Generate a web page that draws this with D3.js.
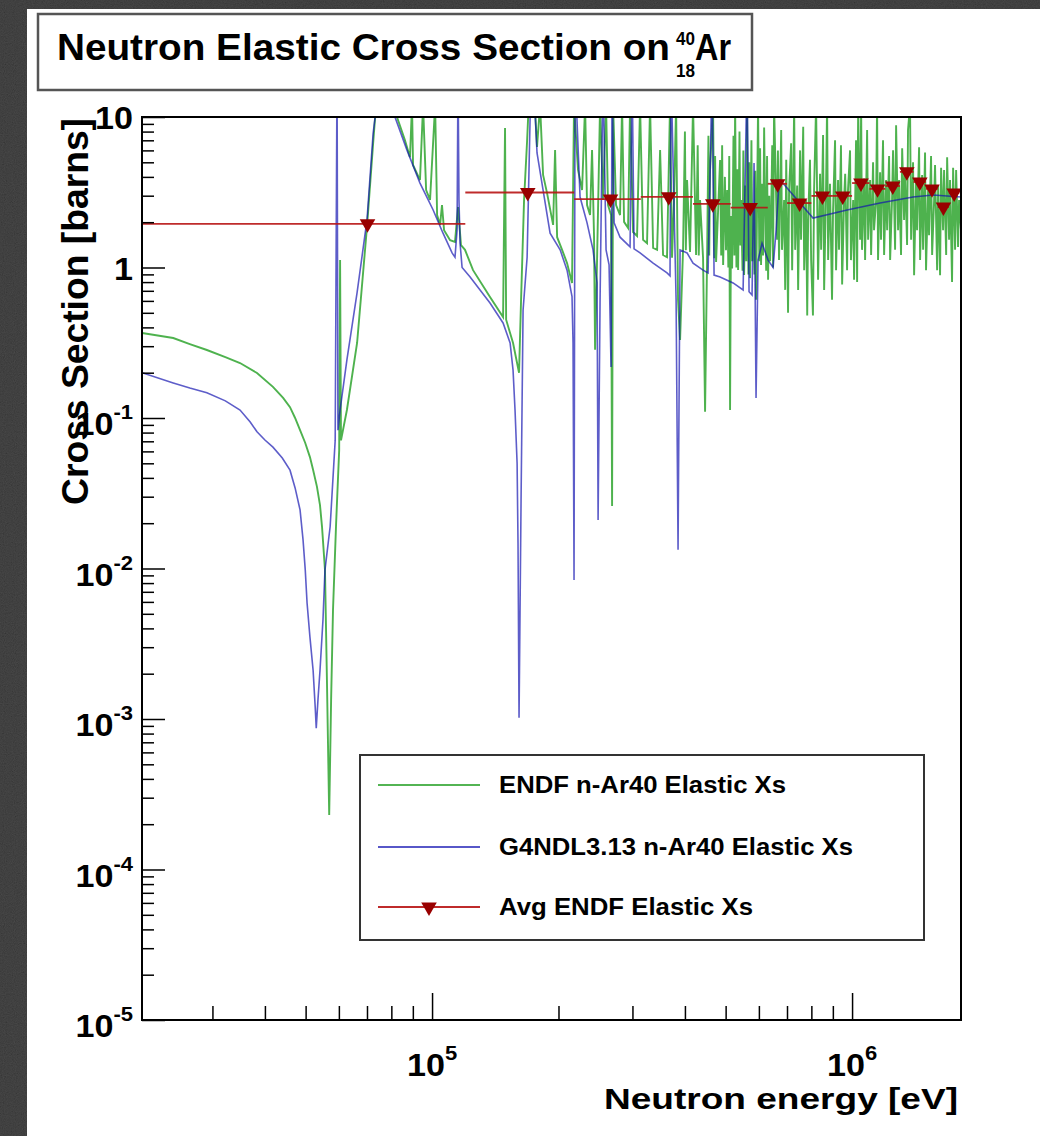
<!DOCTYPE html>
<html>
<head>
<meta charset="utf-8">
<script src="https://cdn.jsdelivr.net/npm/d3@7"></script>
<style>
html, body { margin: 0; padding: 0; background: #fff; }
text { font-family: "Liberation Sans", Arial, Helvetica, sans-serif; font-weight: bold; fill: #000; }
</style>
</head>
<body>
<div id="chart"></div>
<script>
// ENDF n-Ar40 elastic cross section, [energy keV, sigma barns]
const endfPoints = [
    [20.4,0.367],[24.2,0.340],[26.5,0.310],[29.1,0.283],[32.2,0.254],[34.9,0.232],[38.3,0.199],
    [41.8,0.161],[44.2,0.136],[45.9,0.118],[47.2,0.100],[48.5,0.083],[49.9,0.0682],[51.2,0.055],
    [52.1,0.0451],[53.2,0.035],[54.1,0.0264],[54.7,0.019],[55.6,0.0098],[56.2,0.0018],[56.9,0.00023],
    [57.5,0.00134],[58.1,0.0053],[59.1,0.020],[60.1,0.061],[60.4,1.12],[60.7,0.071],[62.7,0.113],
    [66.3,0.315],[70.0,1.86],[72.4,6.7],[73.2,10],[77.7,20],[82.5,10],[86.2,7.0],[88.6,5.4],
    [89.6,12],[90.1,4.8],[93.6,3.81],[95.2,12],[96.8,3.27],[98.9,2.81],[101.7,12],[102.8,2.23],
    [104.5,1.92],[105.6,2.60],[106.8,1.77],[110.4,1.52],[113.4,1.48],[115.3,2.52],[117.2,1.41],
    [119.8,1.31],[125.2,0.96],[137.4,0.637],[147.6,0.469],[149.2,8.45],[150.1,0.45],[155.9,0.315],
    [161.1,0.20],[162.9,0.61],[165.6,2.81],[168.4,7.0],[171.2,20],[174.0,20],[177.8,6.32],
    [180.8,12],[183.8,4.12],[187.8,3.13],[194.2,1.92],[196.3,6.03],[198.5,1.59],[204.0,1.31],
    [209.6,1.07],[215.4,0.79],[217.8,12],[222.6,4.45],[227.6,3.27],[231.4,12],[233.9,2.60],
    [237.8,2.23],[240.4,6.03],[243.0,1.64],[244.4,0.284],[247.1,1.12],[251.2,12],[255.3,2.81],
    [259.6,12],[262.4,2.60],[266.8,2.23],[268.3,0.026],[269.8,12],[274.2,2.60],[280.3,2.23],
    [283.4,12],[286.5,2.01],[292.9,1.83],[296.1,12],[301.0,1.72],[307.7,1.62],[312.8,12],
    [318.0,1.53],[325.0,1.45],[330.4,12],[336.0,1.35],[343.4,1.31],[349.1,6.03],[354.8,1.21],
    [362.6,1.17],[368.6,12],[372.7,1.16],[376.9,2.81],[381.1,12],[385.2,0.61],[389.5,0.33],
    [395.9,1.31],[400.0,8.0],[402.0,1.3],[404.7,3.81],[411.4,1.27],[418.2,12],[425.2,1.21],
    [429.0,6.5],[431.5,1.2],[434.6,2.81],[441.8,1.16],[446.7,0.110],[451.6,1.12],[455.0,7.5],
    [457.0,1.2],[459.1,4.45],[466.7,12],[470.0,1.15],[472.0,5.5],[474.5,1.09],
    [485.0,5.17],[488.0,1.2],[490.5,6.5],[493.2,1.04],[498.0,4.0],[501.0,1.3],[504.1,3.27],
    [507.5,1.0],[510.0,5.5],[512.3,0.113],[515.0,2.2],[518.1,0.985],[522.0,7.5],[524.5,1.2],
    [526.7,12],[530.5,1.0],[533.0,4.5],[535.4,0.962],[539.5,8.0],[542.0,1.4],[544.2,2.81],
    [548.5,0.95],[551.0,6.0],[553.3,0.892],[557.5,3.5],[560.0,1.1],[562.3,12],[566.5,0.9],
    [569.0,5.0],[571.6,0.85],[576.0,7.0],[578.5,1.1],[581.1,2.41],[585.5,0.9],[588.0,4.4],
    [590.7,0.61],[594.0,2.5],[597.3,12],[601.5,1.1],[604.0,6.2],[607.2,1.04],[611.0,3.6],
    [614.0,1.2],[617.5,8.5],[620.7,2.81],[624.5,0.95],[627.5,5.5],[631.0,0.83],[635.0,3.0],
    [638.0,1.1],[641.4,2.07],[645.5,6.5],[648.5,1.0],[652.1,12],
    [663,1.53],[666,6.0],[670,1.12],[678,8.2],[681,1.31],[689,2.81],[693,0.71],[697,5.2],
    [704,0.50],[708,3.27],[716,6.7],[720,0.96],[728,12],[732,1.31],[740,3.5],[744,0.71],
    [752,6.0],[756,1.53],[765,8.6],[769,0.96],[777,2.81],[782,0.48],[786,2.07],[794,5.2],
    [799,1.12],[807,0.48],[812,3.27],[821,12],[830,0.83],[839,4.2],[844,1.31],[853,7.6],
    [858,0.71],[867,3.27],[872,12],[877,1.12],[886,3.6],[896,0.61],[901,2.41],[911,7.0],
    [916,0.96],[926,3.81],[931,1.31],[941,6.5],[947,0.77],[957,2.81],[963,4.2],[973,0.96],
    [978,3.27],[989,6.0],[994,1.12],[1006,2.81],[1011,0.83],[1022,7.0],[1028,0.80],[1034,12],
    [1045,1.53],[1051,12],[1056,1.31],[1068,3.9],[1074,1.12],[1086,8.2],[1092,1.53],[1104,3.81],
    [1110,1.21],[1122,5.0],[1128,1.77],[1141,2.81],[1147,12],[1153,1.12],[1166,4.3],[1172,1.53],
    [1185,7.0],[1192,1.21],[1205,3.81],[1212,1.77],[1225,5.5],[1232,1.12],[1245,2.81],[1252,6.0],
    [1266,1.31],[1273,8.8],[1287,1.77],[1294,3.81],[1308,1.21],[1316,6.2],[1330,2.07],[1337,4.45],
    [1352,1.41],[1359,8.2],[1374,12],[1382,1.53],[1397,5.0],[1405,0.89],[1420,3.81],[1428,1.77],
    [1444,6.3],[1452,1.12],[1468,4.12],[1476,1.31],[1492,5.8],[1500,0.96],[1517,3.27],[1525,1.64],
    [1542,5.5],[1551,1.21],[1568,2.81],[1576,4.8],[1594,0.96],[1603,3.53],[1620,0.89],[1629,4.6],
    [1647,1.77],[1656,4.45],[1675,1.21],[1684,5.4],[1702,1.53],[1711,3.81],[1730,0.80],[1740,4.6],
    [1759,1.31],[1769,4.45],[1788,1.37],[1798,2.81],[1817,1.77]
];

// G4NDL3.13 n-Ar40 elastic cross section, [energy keV, sigma barns]
const g4ndlPoints = [
    [20.4,0.20],[24.2,0.171],[26.5,0.158],[29.1,0.147],[32.2,0.130],[34.9,0.113],[36.9,0.094],
    [38.3,0.081],[40.0,0.0714],[41.8,0.064],[44.0,0.0542],[45.9,0.045],[47.2,0.0343],[48.5,0.0245],
    [49.3,0.0155],[49.9,0.0098],[50.4,0.0059],[51.2,0.0035],[52.1,0.0021],[52.7,0.0012],
    [53.0,0.00087],[53.5,0.00134],[54.1,0.0021],[55.0,0.0046],[55.6,0.0098],[57.2,0.019],
    [58.8,0.071],[59.4,20],[59.7,0.083],[60.4,0.113],[62.7,0.243],[66.3,0.68],[70.0,2.07],
    [72.4,7.8],[73.2,10],[77.7,20],[81.6,10],[87.2,6.0],[93.6,3.64],[100.6,2.41],[106.2,1.69],
    [111.6,1.25],[113.4,1.17],[114.7,1.77],[115.3,20],[115.9,2.81],[116.6,1.45],[117.9,1.0],
    [123.2,0.865],[130.1,0.708],[137.4,0.581],[147.6,0.428],[153.4,0.315],[155.9,0.208],
    [157.6,0.113],[159.4,0.050],[160.2,0.0148],[161.1,0.00102],[162.9,0.0285],[164.7,0.52],
    [168.4,1.17],[171.2,10],[174.0,20],[177.8,5.77],[183.8,3.27],[191.0,1.69],[201.8,1.31],
    [209.6,0.96],[215.4,0.64],[216.6,0.315],[217.8,0.0084],[219.0,20],[225.1,2.94],[233.9,1.98],
    [241.7,1.31],[247.1,0.79],[248.5,0.021],[251.2,0.61],[255.3,20],[259.6,1.31],[263.9,1.04],
    [266.8,0.218],[268.3,20],[271.3,1.98],[280.3,1.59],[296.1,1.37],[299.4,20],[302.7,1.33],
    [312.8,1.25],[336.0,1.07],[362.6,0.92],[368.6,0.88],[370.7,20],[381.1,0.61],[385.2,0.0133],
    [389.5,1.31],[404.7,1.25],[418.2,1.07],[441.8,0.96],[454.1,0.92],[464.2,20],[469.3,0.89],
    [485.0,0.865],[520.9,0.79],[550.3,0.71],[562.3,20],[568.5,0.69],[577.9,0.656],[584.3,4.95],
    [590.7,0.136],[597.3,1.12],[610.5,1.45],[631.0,1.12],[648.6,1.0],[659.4,1.77],[670.4,3.81],
    [674.1,3.81],[807.4,2.13],[973,2.41],[1166,2.68],[1397,2.94],[1559,3.03],[1817,2.94]
];

// averaged ENDF elastic cross section per energy bin (keV edges, barns)
const avgBinLow  = [20.4, 120, 218, 314, 418, 514, 630, 700, 800, 900, 1000, 1100, 1200, 1300, 1400, 1500, 1600, 1700];
const avgBinHigh = [120, 218, 314, 418, 514, 630, 700, 800, 900, 1000, 1100, 1200, 1300, 1400, 1500, 1600, 1700, 1800];
const avgXs      = [1.95, 3.15, 2.85, 2.95, 2.65, 2.5, 3.6, 2.68, 2.99, 2.99, 3.64, 3.33, 3.48, 4.32, 3.70, 3.33, 2.52, 3.13];

const yExponents = [-5, -4, -3, -2, -1, 0, 1];
const xExponents = [5, 6];
const legendLabels = ["ENDF n-Ar40 Elastic Xs", "G4NDL3.13 n-Ar40 Elastic Xs", "Avg ENDF Elastic Xs"];

const W = 1040, H = 1136;
const frame = { left: 142, right: 961, top: 117, bottom: 1020 };
const green = "#0a940a", blue = "#1010b0", red = "#b81414", darkRed = "#990000";

const svg = d3.select("#chart").append("svg")
    .attr("width", W)
    .attr("height", H);

const defs = svg.append("defs");

// grainy dark border of the screenshot
const grain = defs.append("filter").attr("id", "grain")
    .attr("x", 0).attr("y", 0).attr("width", "100%").attr("height", "100%");
grain.append("feTurbulence").attr("type", "fractalNoise")
    .attr("baseFrequency", 0.9).attr("numOctaves", 2).attr("seed", 7);
grain.append("feColorMatrix").attr("type", "matrix")
    .attr("values", "0.33 0.33 0.33 0 0 0.33 0.33 0.33 0 0 0.33 0.33 0.33 0 0 0 0 0 0 1");

svg.append("rect").attr("width", W).attr("height", H).attr("fill", "#1e1e1e");
svg.append("rect").attr("width", W).attr("height", H).attr("filter", "url(#grain)").attr("opacity", 0.22);
svg.append("rect").attr("x", 27).attr("y", 9).attr("width", W - 27).attr("height", H - 9).attr("fill", "#fff");

defs.append("clipPath").attr("id", "plotClip")
    .append("rect")
    .attr("x", frame.left).attr("y", frame.top)
    .attr("width", frame.right - frame.left)
    .attr("height", frame.bottom - frame.top);

const x = d3.scaleLog().domain([2.039e4, 1.817e6]).range([frame.left, frame.right]);
const y = d3.scaleLog().domain([1e-5, 10]).range([frame.bottom, frame.top]);

const line = d3.line()
    .x(d => x(d[0] * 1e3))
    .y(d => y(d[1]));

const plot = svg.append("g").attr("clip-path", "url(#plotClip)");

const avgBins = avgXs.map((v, i) => ({ lo: avgBinLow[i], hi: avgBinHigh[i], v: v }));

plot.append("path")
    .attr("d", line(endfPoints))
    .attr("fill", "none")
    .attr("stroke", green)
    .attr("stroke-width", 1.9)
    .attr("stroke-opacity", 0.72);

plot.append("path")
    .attr("d", line(g4ndlPoints))
    .attr("fill", "none")
    .attr("stroke", blue)
    .attr("stroke-width", 1.6)
    .attr("stroke-opacity", 0.68);

plot.selectAll(".avg-bar")
    .data(avgBins)
    .enter()
    .append("line")
    .attr("class", "avg-bar")
    .attr("x1", d => x(d.lo * 1e3))
    .attr("x2", d => x(d.hi * 1e3))
    .attr("y1", d => y(d.v))
    .attr("y2", d => y(d.v))
    .attr("stroke", red)
    .attr("stroke-width", 1.8)
    .attr("stroke-opacity", 0.9);

const downTriangle = d3.symbol().type(d3.symbolTriangle).size(105);

plot.selectAll(".avg-mark")
    .data(avgBins)
    .enter()
    .append("path")
    .attr("class", "avg-mark")
    .attr("d", downTriangle)
    .attr("transform", d => "translate(" + x((d.lo + d.hi) / 2 * 1e3) + "," + y(d.v) + ") rotate(180)")
    .attr("fill", darkRed);

// frame
svg.append("rect")
    .attr("x", frame.left).attr("y", frame.top)
    .attr("width", frame.right - frame.left)
    .attr("height", frame.bottom - frame.top)
    .attr("fill", "none")
    .attr("stroke", "#000")
    .attr("stroke-width", 2);

// y axis ticks (inside the frame)
const yMajor = yExponents.map(e => Math.pow(10, e));
const yMinor = [];
yExponents.slice(0, -1).forEach(e => {
    for (let m = 2; m <= 9; m++) yMinor.push(m * Math.pow(10, e));
});

function styleAxis(g) {
    g.select(".domain").remove();
    g.selectAll(".tick line").attr("stroke", "#000").attr("stroke-width", 1.5);
    g.selectAll(".tick text").remove();
}

svg.append("g")
    .attr("transform", "translate(" + frame.left + ",0)")
    .call(d3.axisLeft(y).tickValues(yMajor).tickSize(-23).tickFormat(""))
    .call(styleAxis);

svg.append("g")
    .attr("transform", "translate(" + frame.left + ",0)")
    .call(d3.axisLeft(y).tickValues(yMinor).tickSize(-12).tickFormat(""))
    .call(styleAxis);

// x axis ticks
const xMajor = xExponents.map(e => Math.pow(10, e));
const xMinor = [];
[4, 5].forEach(e => {
    for (let m = 2; m <= 9; m++) {
        const v = m * Math.pow(10, e);
        if (v > x.domain()[0] && v < x.domain()[1]) xMinor.push(v);
    }
});

svg.append("g")
    .attr("transform", "translate(0," + frame.bottom + ")")
    .call(d3.axisBottom(x).tickValues(xMajor).tickSize(-27).tickFormat(""))
    .call(styleAxis);

svg.append("g")
    .attr("transform", "translate(0," + frame.bottom + ")")
    .call(d3.axisBottom(x).tickValues(xMinor).tickSize(-14).tickFormat(""))
    .call(styleAxis);

// power-of-ten labels
function powLabel(g, e, anchor) {
    const t = g.append("text")
        .attr("text-anchor", anchor)
        .style("font-size", "31px");
    if (e === 0) { t.text("1"); return t; }
    t.append("tspan").text("10");
    if (e !== 1) {
        t.append("tspan").attr("dy", -16).style("font-size", "20px").text(e);
    }
    return t;
}

yExponents.forEach(e => {
    const g = svg.append("g")
        .attr("transform", "translate(133," + (y(Math.pow(10, e)) + (e >= 0 ? 12 : 17)) + ") scale(1.1,1)");
    powLabel(g, e, "end");
});

xExponents.forEach(e => {
    const g = svg.append("g")
        .attr("transform", "translate(" + x(Math.pow(10, e)) + ",1076) scale(1.1,1)");
    powLabel(g, e, "middle");
});

// axis titles
svg.append("text")
    .attr("transform", "translate(88,118) rotate(-90)")
    .attr("text-anchor", "end")
    .attr("textLength", 387)
    .attr("lengthAdjust", "spacingAndGlyphs")
    .style("font-size", "37px")
    .text("Cross Section [barns]");

svg.append("text")
    .attr("x", 958)
    .attr("y", 1109)
    .attr("text-anchor", "end")
    .attr("textLength", 354)
    .attr("lengthAdjust", "spacingAndGlyphs")
    .style("font-size", "30px")
    .text("Neutron energy [eV]");

// title box
svg.append("rect")
    .attr("x", 38).attr("y", 14)
    .attr("width", 714).attr("height", 76)
    .attr("fill", "#fff")
    .attr("stroke", "#555")
    .attr("stroke-width", 2.5);

svg.append("text")
    .attr("x", 57).attr("y", 60)
    .attr("textLength", 613)
    .attr("lengthAdjust", "spacingAndGlyphs")
    .style("font-size", "36px")
    .text("Neutron Elastic Cross Section on");

svg.append("text")
    .attr("x", 676).attr("y", 45)
    .attr("textLength", 19)
    .attr("lengthAdjust", "spacingAndGlyphs")
    .style("font-size", "19px")
    .text("40");

svg.append("text")
    .attr("x", 676).attr("y", 77)
    .attr("textLength", 19)
    .attr("lengthAdjust", "spacingAndGlyphs")
    .style("font-size", "19px")
    .text("18");

svg.append("text")
    .attr("x", 695).attr("y", 60)
    .attr("textLength", 36)
    .attr("lengthAdjust", "spacingAndGlyphs")
    .style("font-size", "36px")
    .text("Ar");

// legend
const legend = { x: 360, y: 755, w: 564, h: 185 };
svg.append("rect")
    .attr("x", legend.x).attr("y", legend.y)
    .attr("width", legend.w).attr("height", legend.h)
    .attr("fill", "#fff")
    .attr("stroke", "#333")
    .attr("stroke-width", 2);

const legendRows = [785, 847, 907];
const legendColors = [green, blue, red];
const legendWidths = [287, 354, 254];

legendLabels.forEach((label, i) => {
    svg.append("line")
        .attr("x1", 378).attr("x2", 480)
        .attr("y1", legendRows[i]).attr("y2", legendRows[i])
        .attr("stroke", legendColors[i])
        .attr("stroke-width", 1.8)
        .attr("stroke-opacity", i < 2 ? 0.7 : 0.9);
    svg.append("text")
        .attr("x", 499)
        .attr("y", legendRows[i] + 8)
        .attr("textLength", legendWidths[i])
        .attr("lengthAdjust", "spacingAndGlyphs")
        .style("font-size", "23px")
        .text(label);
});

svg.append("path")
    .attr("d", downTriangle)
    .attr("transform", "translate(429," + legendRows[2] + ") rotate(180)")
    .attr("fill", darkRed);
</script>
</body>
</html>
